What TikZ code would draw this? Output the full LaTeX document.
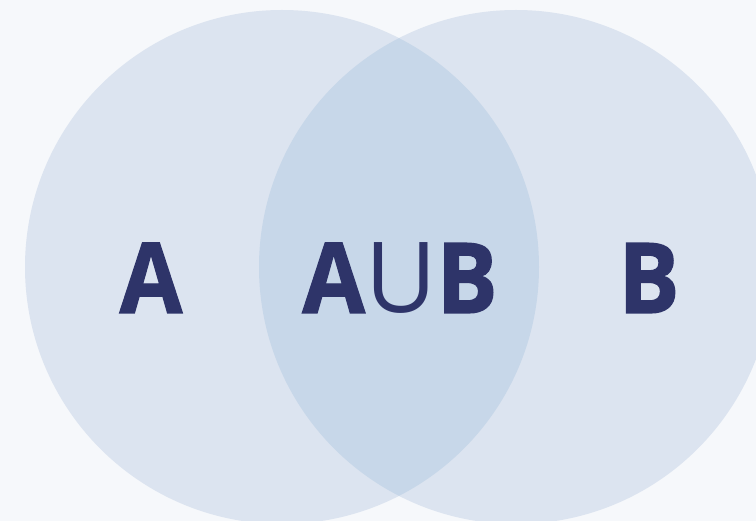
\documentclass[tikz,border=0pt]{standalone}
\usepackage{fontspec}
\setmainfont{Open Sans}[BoldFeatures={FakeBold=1.2,FakeStretch=0.93}]
\definecolor{bgc}{HTML}{F6F8FB}
\definecolor{circ}{HTML}{DCE4F0}
\definecolor{overlap}{HTML}{C7D7E9}
\definecolor{ink}{HTML}{2E3469}
\begin{document}
\begin{tikzpicture}[x=1pt,y=-1pt,
  lbl/.style={text=ink,font=\fontsize{98}{98}\selectfont\bfseries,inner sep=0pt,anchor=base}]
\useasboundingbox (0,0) rectangle (756,521);
\fill[bgc] (0,0) rectangle (756,521);
\coordinate (ca) at (282,267);
\coordinate (cb) at (516,267);
\fill[circ] (ca) circle[radius=257];
\fill[circ] (cb) circle[radius=257];
\begin{scope}
\clip (ca) circle[radius=257];
\fill[overlap] (cb) circle[radius=257];
\end{scope}
\node[lbl] (a) at (151,313) {A};
\node[lbl] (ab) at (400,313) {A\mdseries U\bfseries B};
\node[lbl] (b) at (649,313) {B};
\end{tikzpicture}
\end{document}
